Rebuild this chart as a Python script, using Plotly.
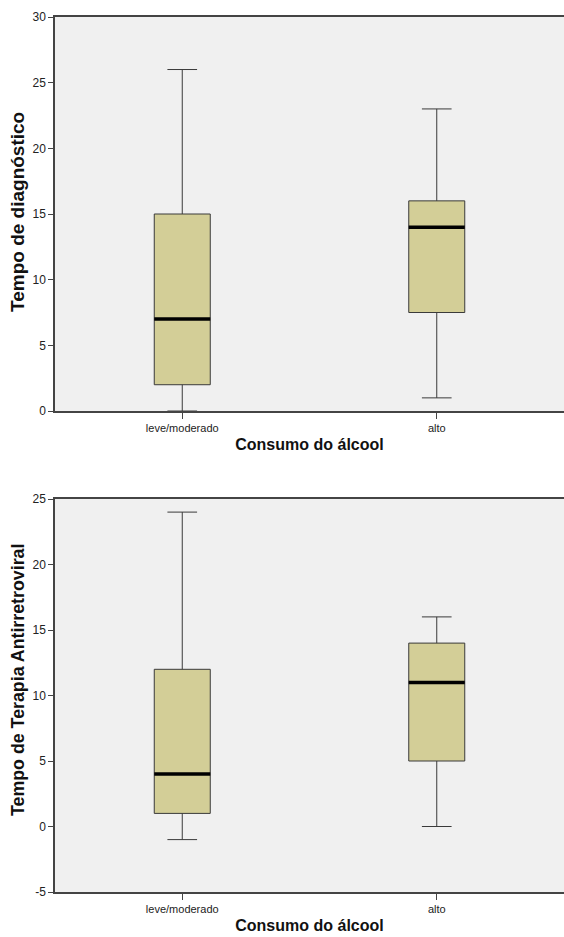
import plotly.graph_objects as go

categories = ["leve/moderado", "alto"]

# Top panel: Tempo de diagnóstico
diag_low = [0, 1]
diag_q1 = [2, 7.5]
diag_med = [7, 14]
diag_q3 = [15, 16]
diag_high = [26, 23]

# Bottom panel: Tempo de Terapia Antirretroviral
tarv_low = [-1, 0]
tarv_q1 = [1, 5]
tarv_med = [4, 11]
tarv_q3 = [12, 14]
tarv_high = [24, 16]

top_ticks = [0, 5, 10, 15, 20, 25, 30]
bot_ticks = [-5, 0, 5, 10, 15, 20, 25]

BOX_W = 0.22
FILL = "#D3CE97"
EDGE = "#3a3a3a"
AX = "#444444"
FONT = "Liberation Sans, Arial, sans-serif"

fig = go.Figure()
xs = list(range(len(categories)))

def add_panel(lo, q1, med, q3, hi, xa, ya):
    fig.add_trace(go.Box(
        x=xs, q1=q1, median=med, q3=q3, lowerfence=lo, upperfence=hi,
        width=BOX_W, whiskerwidth=0.53, fillcolor=FILL,
        line=dict(color=EDGE, width=1), boxpoints=False,
        xaxis=xa, yaxis=ya, showlegend=False, hoverinfo="skip"))
    for i, m in zip(xs, med):
        fig.add_trace(go.Scatter(
            x=[i - BOX_W / 2, i + BOX_W / 2], y=[m, m], mode="lines",
            line=dict(color="black", width=3.5), xaxis=xa, yaxis=ya,
            showlegend=False, hoverinfo="skip"))

add_panel(diag_low, diag_q1, diag_med, diag_q3, diag_high, "x", "y")
add_panel(tarv_low, tarv_q1, tarv_med, tarv_q3, tarv_high, "x2", "y2")

H = 937.0
def dom(top_px, bot_px):
    return [(H - bot_px) / H, (H - top_px) / H]

xcommon = dict(range=[-0.5, 1.5], tickvals=xs, ticktext=categories,
               showline=True, linecolor=AX, linewidth=1.5, mirror=True,
               ticks="outside", ticklen=6, tickcolor=AX, showgrid=False,
               zeroline=False, automargin=False,
               tickfont=dict(size=11, color="#222", family=FONT),
               title=dict(text="<b>Consumo do álcool</b>",
                          font=dict(size=16, color="#111", family=FONT), standoff=6))
ycommon = dict(showline=True, linecolor=AX, linewidth=1.5,
               ticks="outside", ticklen=5, tickcolor=AX, showgrid=False,
               zeroline=False, automargin=False,
               tickfont=dict(size=12, color="#222", family=FONT))

fig.update_layout(
    width=564, height=937,
    margin=dict(l=55, r=0, t=0, b=0, autoexpand=False),
    paper_bgcolor="white", plot_bgcolor="#F0F0F0",
    xaxis=dict(**xcommon, domain=[0, 1], anchor="y"),
    yaxis=dict(**ycommon, domain=dom(17, 411), range=[0, 30], tickvals=top_ticks,
               ticktext=[str(v) for v in top_ticks], anchor="x"),
    xaxis2=dict(**xcommon, domain=[0, 1], anchor="y2"),
    yaxis2=dict(**ycommon, domain=dom(499, 892), range=[-5, 25], tickvals=bot_ticks,
                ticktext=[str(v) for v in bot_ticks], anchor="x2"),
)

def ytitle(text, center_px, size):
    fig.add_annotation(text="<b>%s</b>" % text, textangle=-90,
                       xref="paper", yref="paper", x=-37 / 509.0,
                       y=(H - center_px) / H, xanchor="center", yanchor="middle",
                       showarrow=False,
                       font=dict(size=size, color="#111", family=FONT))

ytitle("Tempo de diagnóstico", 212, 19)
ytitle("Tempo de Terapia Antirretroviral", 680, 17.8)

fig.write_html("out.html", config={"displayModeBar": False},
               post_script="document.body.style.margin='0';")
